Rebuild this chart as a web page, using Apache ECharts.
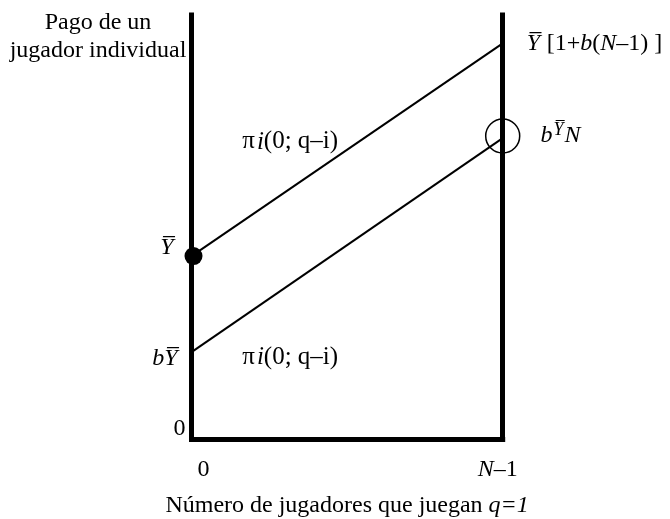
<!DOCTYPE html>
<html>
<head>
<meta charset="utf-8">
<script src="https://cdn.jsdelivr.net/npm/echarts@6/dist/echarts.min.js"></script>
<style>
html,body{margin:0;padding:0;background:#fff}
#chart{width:670px;height:519px}
</style>
</head>
<body>
<div id="chart"></div>
<script>
// valores (eje y en escala 0-100, eje x de 0 a N-1)
var upperLine = [[0, 43.2], [1, 93.3]];
var lowerLine = [[0, 20.6], [1, 71.0]];
var dotPoint = [[0, 43.2]];
var circlePoint = [[1, 71.5]];
var yTicks = [0, 20.6, 43.2];
var yTickLabels = ['{y0|0}', '{yb|bY\u0305}', '{yy|Y\u0305}'];
var xTicks = [0, 1];
var xTickLabels = ['{x0|0}', '{i|N}{xn|\u20131}'];
var piLabelPos = [[0.317, 70.1], [0.317, 19.4]];

var serif = '"Liberation Serif", "DejaVu Serif", serif';
var fs = 24;
var rich = {
    n: {fontFamily: serif, fontSize: fs, color: '#000'},
    i: {fontFamily: serif, fontSize: fs, fontStyle: 'italic', color: '#000'},
    s: {fontFamily: serif, fontSize: 18, fontStyle: 'italic', color: '#000', padding: [0, 1, 12, 1]},
    y0: {fontFamily: serif, fontSize: fs, color: '#000', padding: [0, 0, 22, 0]},
    yb: {fontFamily: serif, fontSize: fs, fontStyle: 'italic', color: '#000', padding: [14, 8, 0, 0]},
    yy: {fontFamily: serif, fontSize: fs, fontStyle: 'italic', color: '#000', padding: [0, 12, 16, 0]},
    x0: {fontFamily: serif, fontSize: fs, color: '#000', padding: [0, 0, 0, 24]},
    xn: {fontFamily: serif, fontSize: fs, color: '#000', padding: [0, 10, 0, 0]},
    p: {fontFamily: serif, fontSize: 25, color: '#000'},
    pi: {fontFamily: serif, fontSize: 25, fontStyle: 'italic', color: '#000'}
};

var myChart = echarts.init(document.getElementById('chart'));
var option = {
    animation: false,
    backgroundColor: '#fff',
    title: {
        text: 'Pago de un\njugador individual',
        left: 93,
        top: 4,
        textAlign: 'center',
        textStyle: {fontFamily: serif, fontSize: fs, fontWeight: 'normal', color: '#000', lineHeight: 28}
    },
    grid: {left: 191.5, right: 167.3, top: 15, bottom: 79.5, outerBoundsMode: 'none', containLabel: false},
    xAxis: {
        type: 'value',
        min: 0,
        max: 1,
        name: 'Número de jugadores que juegan {i|q=1}',
        nameLocation: 'middle',
        nameGap: 54,
        nameTextStyle: {fontFamily: serif, fontSize: fs, color: '#000', rich: rich},
        axisLine: {lineStyle: {color: '#000', width: 5, cap: 'square'}},
        axisTick: {show: false},
        splitLine: {show: false},
        axisLabel: {
            customValues: xTicks,
            margin: 18,
            formatter: function (v) { return xTickLabels[xTicks.indexOf(v)]; },
            rich: rich
        }
    },
    yAxis: [{
        type: 'value',
        min: 0,
        max: 100,
        axisLine: {show: true, lineStyle: {color: '#000', width: 5, cap: 'square'}},
        axisTick: {show: false},
        splitLine: {show: false},
        axisLabel: {
            customValues: yTicks,
            margin: 6,
            formatter: function (v) { return yTickLabels[yTicks.indexOf(v)]; },
            rich: rich
        }
    }, {
        type: 'value',
        min: 0,
        max: 100,
        position: 'right',
        axisLine: {show: true, lineStyle: {color: '#000', width: 5, cap: 'square'}},
        axisTick: {show: false},
        axisLabel: {show: false},
        splitLine: {show: false}
    }],
    series: [
        {
            type: 'line',
            data: upperLine,
            symbol: 'none',
            lineStyle: {color: '#000', width: 2},
            endLabel: {
                show: true, distance: 24,
                formatter: '{i|Y\u0305}  {n|[1+}{i|b}{n|(}{i|N}{n|\u20131) ]}',
                rich: rich
            },
            z: 3
        },
        {
            type: 'line',
            data: lowerLine,
            symbol: 'none',
            lineStyle: {color: '#000', width: 2},
            z: 3
        },
        {
            type: 'scatter',
            data: dotPoint,
            symbolSize: 18,
            symbolOffset: [2, 0],
            itemStyle: {color: '#000', opacity: 1},
            z: 4
        },
        {
            type: 'scatter',
            data: circlePoint,
            symbolSize: 34,
            itemStyle: {color: 'rgba(0,0,0,0)', borderColor: '#000', borderWidth: 1.5, opacity: 1},
            label: {
                show: true, position: 'right', distance: 20,
                formatter: '{i|b}{s|Y\u0305}{i|N}',
                rich: rich
            },
            z: 4
        },
        {
            type: 'scatter',
            data: piLabelPos,
            symbolSize: 0,
            itemStyle: {opacity: 1},
            label: {
                show: true, position: 'inside',
                formatter: '{p|\u03c0\u200a}{pi|i}{p|(0; q\u2013i)}',
                rich: rich
            },
            z: 5
        }
    ]
};
myChart.setOption(option);
</script>
</body>
</html>
